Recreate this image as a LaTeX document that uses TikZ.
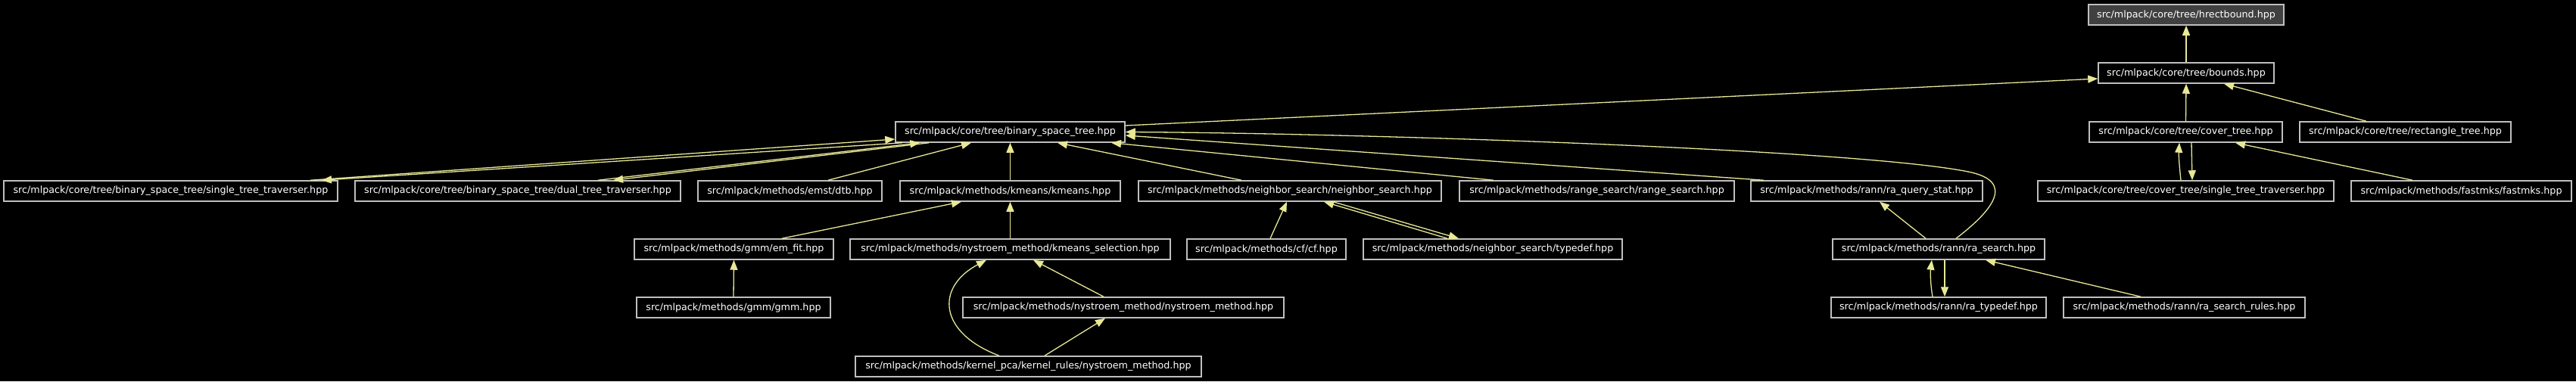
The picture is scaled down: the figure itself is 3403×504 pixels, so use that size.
\documentclass[tikz,border=0pt]{standalone}
\usepackage{fontspec}
\setmainfont{DejaVu Sans}
\usetikzlibrary{arrows.meta}
\definecolor{edgec}{RGB}{232,232,150}
\definecolor{boxc}{RGB}{191,191,191}
\definecolor{hlfill}{RGB}{64,64,64}
\begin{document}
\begin{tikzpicture}[x=1pt,y=-1pt,
  file/.style={draw=boxc, line width=1.5pt, fill=black, text=white,
    font=\fontsize{12.7}{15}\selectfont, minimum height=27pt, inner sep=0pt},
  hlfile/.style={file, fill=hlfill},
  edge/.style={draw=edgec, line width=1.3pt, -{Triangle[length=13pt,width=10pt]}}]
\fill[black] (0,0) rectangle (3403,504);
\useasboundingbox (0,0) rectangle (3403,504);
% row 0
\node[hlfile, minimum width=258pt] (hrect) at (2888,19.5) {src/mlpack/core/tree/hrectbound.hpp};
% row 1
\node[file, minimum width=232pt] (bounds) at (2888,96.5) {src/mlpack/core/tree/bounds.hpp};
% row 2
\node[file, minimum width=303pt] (bst) at (1334.5,174.5) {src/mlpack/core/tree/binary\_space\_tree.hpp};
\node[file, minimum width=255pt] (cover) at (2887.5,174.5) {src/mlpack/core/tree/cover\_tree.hpp};
\node[file, minimum width=279pt] (rect) at (3177.5,174.5) {src/mlpack/core/tree/rectangle\_tree.hpp};
% row 3
\node[file, minimum width=441pt] (single) at (225.5,252.5) {src/mlpack/core/tree/binary\_space\_tree/single\_tree\_traverser.hpp};
\node[file, minimum width=430pt] (dual) at (684,252.5) {src/mlpack/core/tree/binary\_space\_tree/dual\_tree\_traverser.hpp};
\node[file, minimum width=243pt] (dtb) at (1043.5,252.5) {src/mlpack/methods/emst/dtb.hpp};
\node[file, minimum width=291pt] (kmeans) at (1334.5,252.5) {src/mlpack/methods/kmeans/kmeans.hpp};
\node[file, minimum width=400pt] (ns) at (1704,252.5) {src/mlpack/methods/neighbor\_search/neighbor\_search.hpp};
\node[file, minimum width=363pt] (range) at (2109.5,252.5) {src/mlpack/methods/range\_search/range\_search.hpp};
\node[file, minimum width=306pt] (raqs) at (2466,252.5) {src/mlpack/methods/rann/ra\_query\_stat.hpp};
\node[file, minimum width=391pt] (covtrav) at (2887.5,252.5) {src/mlpack/core/tree/cover\_tree/single\_tree\_traverser.hpp};
\node[file, minimum width=291pt] (fastmks) at (3251.5,252.5) {src/mlpack/methods/fastmks/fastmks.hpp};
% row 4
\node[file, minimum width=263pt] (emfit) at (969.5,329.5) {src/mlpack/methods/gmm/em\_fit.hpp};
\node[file, minimum width=423pt] (kmsel) at (1334.5,329.5) {src/mlpack/methods/nystroem\_method/kmeans\_selection.hpp};
\node[file, minimum width=210pt] (cf) at (1673,329.5) {src/mlpack/methods/cf/cf.hpp};
\node[file, minimum width=342pt] (nstd) at (1972,329.5) {src/mlpack/methods/neighbor\_search/typedef.hpp};
\node[file, minimum width=280pt] (rasearch) at (2561,329.5) {src/mlpack/methods/rann/ra\_search.hpp};
% row 5
\node[file, minimum width=256pt] (gmm) at (969,406.5) {src/mlpack/methods/gmm/gmm.hpp};
\node[file, minimum width=424pt] (nystroem) at (1484,406.5) {src/mlpack/methods/nystroem\_method/nystroem\_method.hpp};
\node[file, minimum width=284pt] (ratypedef) at (2561,406.5) {src/mlpack/methods/rann/ra\_typedef.hpp};
\node[file, minimum width=319pt] (rarules) at (2885.5,406.5) {src/mlpack/methods/rann/ra\_search\_rules.hpp};
% row 6
\node[file, minimum width=457pt] (kpca) at (1358.5,484.5) {src/mlpack/methods/kernel\_pca/kernel\_rules/nystroem\_method.hpp};

% edges
\draw[edge] (bounds.north) -- (hrect.south);
\draw[edge] ([yshift=8.5pt]bst.east) -- ([yshift=-7.5pt]bounds.west);
\draw[edge] (cover.north) -- (bounds.south);
\draw[edge] ([xshift=-51.5pt]rect.north) -- ([xshift=50pt]bounds.south);
\draw[edge] ([xshift=184.5pt]single.north) -- ([yshift=-9.5pt]bst.west);
\draw[edge] ([xshift=10pt]bst.south west) -- ([xshift=199.5pt]single.north);
\draw[edge] ([xshift=106pt]dual.north) -- ([xshift=33pt]bst.south west);
\draw[edge] ([xshift=45pt]bst.south west) -- ([xshift=126pt]dual.north);
\draw[edge] ([xshift=50.5pt]dtb.north) -- ([xshift=-51.5pt]bst.south);
\draw[edge] (kmeans.north) -- (bst.south);
\draw[edge] ([xshift=-64pt]ns.north) -- ([xshift=62.5pt]bst.south);
\draw[edge] ([xshift=-136.5pt]range.north) -- ([xshift=133.5pt]bst.south);
\draw[edge] ([xshift=-136pt]raqs.north) -- ([yshift=-4.5pt]bst.east);
\draw[edge] ([xshift=23pt]rasearch.north) .. controls (2630,280) and (2665,240) .. (2600,227)
  .. controls (2450,197) and (1787,176) .. (bst.east);
\draw[edge] (kmsel.north) -- (kmeans.south);
\draw[edge] ([xshift=63.5pt]emfit.north) -- ([xshift=-64.5pt]kmeans.south);
\draw[edge] ([xshift=5pt]cf.north) -- ([xshift=-4pt]ns.south);
\draw[edge] ([xshift=-60pt]nstd.north) -- ([xshift=45pt]ns.south);
\draw[edge] ([xshift=57pt]ns.south) -- ([xshift=-45pt]nstd.north);
\draw[edge] (gmm.north) -- (emfit.south);
\draw[edge] ([xshift=-26pt]nystroem.north) -- ([xshift=30.5pt]kmsel.south);
\draw[edge] ([xshift=21.5pt]kpca.north) -- ([xshift=-24pt]nystroem.south);
\draw[edge] ([xshift=-38.5pt]kpca.north) .. controls (1240,440) and (1235,380) .. ([xshift=-31.5pt]kmsel.south);
\draw[edge] ([xshift=-17pt]rasearch.north) -- ([xshift=17pt]raqs.south);
\draw[edge] ([xshift=-8pt]ratypedef.north) .. controls (2550,375) and (2550,360) .. ([xshift=-9pt]rasearch.south);
\draw[edge] ([xshift=8pt]rasearch.south) -- ([xshift=8pt]ratypedef.north);
\draw[edge] ([xshift=-57.5pt]rarules.north) -- ([xshift=62pt]rasearch.south);
\draw[edge] ([xshift=-6.5pt]covtrav.north) .. controls (2879,220) and (2878,205) .. ([xshift=-8.5pt]cover.south);
\draw[edge] ([xshift=7.5pt]cover.south) -- ([xshift=8.5pt]covtrav.north);
\draw[edge] ([xshift=-64.5pt]fastmks.north) -- ([xshift=65.5pt]cover.south);
\end{tikzpicture}
\end{document}
